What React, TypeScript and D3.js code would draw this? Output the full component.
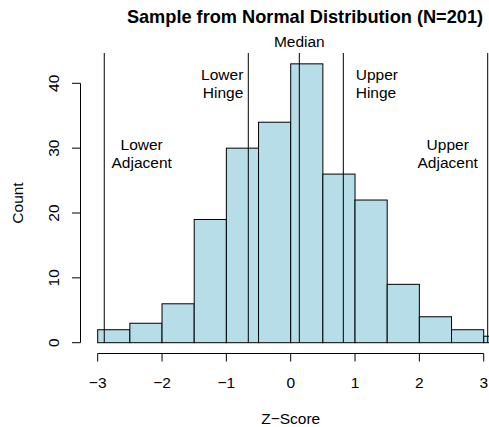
import React from "react";
import * as d3 from "d3";

const binEdges = [-3, -2.5, -2, -1.5, -1, -0.5, 0, 0.5, 1, 1.5, 2, 2.5, 3, 3.5];
const counts = [2, 3, 6, 19, 30, 34, 43, 26, 22, 9, 4, 2, 1];
const xTicks = [-3, -2, -1, 0, 1, 2, 3];
const yTicks = [0, 10, 20, 30, 40];
const markerNames = ["lowerAdj", "lowerHinge", "median", "upperHinge", "upperAdj"];
const markerValues = [-2.898, -0.659, 0.134, 0.818, 3.062];
const markerLabels = [["Lower", "Adjacent"], ["Lower", "Hinge"], ["Median"], ["Upper", "Hinge"], ["Upper", "Adjacent"]];
const title = "Sample from Normal Distribution (N=201)";
const xLabel = "Z\u2212Score";
const yLabel = "Count";

const W = 489;
const H = 427;
const FONT = "'Liberation Sans', Arial, Helvetica, sans-serif";
const FILL = "#b7dde9";

const fmt = (v: number) => (v < 0 ? "\u2212" + Math.abs(v) : String(v));

export default function App() {
  const x = d3.scaleLinear().domain([-3, 3]).range([97.7, 483.7]);
  const y = d3.scaleLinear().domain([0, 40]).range([342.7, 83.3]);
  const plotTop = 53;
  const axisY = 353.5;
  const axisX = 80.5;
  const fs = 15.5;

  const labelPos: Record<string, { dx: number; anchor: string; y0: number }> = {
    lowerAdj: { dx: 37.4, anchor: "middle", y0: 150 },
    lowerHinge: { dx: -5, anchor: "end", y0: 80 },
    median: { dx: 0, anchor: "middle", y0: 46.7 },
    upperHinge: { dx: 12.4, anchor: "start", y0: 80 },
    upperAdj: { dx: -40, anchor: "middle", y0: 150 },
  };

  return (
    <svg
      width={W}
      height={H}
      style={{ position: "absolute", left: 0, top: 0, background: "#fff" }}
      fontFamily={FONT}
    >
      <rect x={0} y={0} width={W} height={H} fill="#fff" />
      {/* bars */}
      {counts.map((c, i) => (
        <rect
          key={i}
          x={x(binEdges[i])}
          y={y(c)}
          width={x(binEdges[i + 1]) - x(binEdges[i])}
          height={y(0) - y(c)}
          fill={FILL}
          stroke="#000"
          strokeWidth={1}
        />
      ))}
      {/* marker lines */}
      {markerValues.map((v, i) => (
        <line
          key={"m" + i}
          x1={x(v)}
          x2={x(v)}
          y1={plotTop}
          y2={y(0)}
          stroke="#000"
          strokeWidth={1}
        />
      ))}
      {/* marker labels */}
      {markerNames.map((n, i) => {
        const p = labelPos[n];
        return (
          <text key={"l" + i} x={x(markerValues[i]) + p.dx} y={p.y0} fontSize={fs} textAnchor={p.anchor} fill="#000">
            {markerLabels[i].map((t, j) => (
              <tspan key={j} x={x(markerValues[i]) + p.dx} y={p.y0 + j * 18}>
                {t}
              </tspan>
            ))}
          </text>
        );
      })}
      {/* x axis */}
      <line x1={x(xTicks[0])} x2={x(xTicks[xTicks.length - 1])} y1={axisY} y2={axisY} stroke="#000" />
      {xTicks.map((t) => (
        <g key={"xt" + t}>
          <line x1={x(t)} x2={x(t)} y1={axisY} y2={axisY + 8} stroke="#000" />
          <text x={x(t)} y={388.3} fontSize={fs} textAnchor="middle">
            {fmt(t)}
          </text>
        </g>
      ))}
      {/* y axis */}
      <line x1={axisX} x2={axisX} y1={y(yTicks[0])} y2={y(yTicks[yTicks.length - 1])} stroke="#000" />
      {yTicks.map((t) => (
        <g key={"yt" + t}>
          <line x1={axisX} x2={axisX - 8.5} y1={y(t)} y2={y(t)} stroke="#000" />
          <text
            transform={`translate(59.3,${y(t)}) rotate(-90)`}
            fontSize={fs}
            textAnchor="middle"
          >
            {fmt(t)}
          </text>
        </g>
      ))}
      {/* axis titles */}
      <text x={290.7} y={423.5} fontSize={fs} textAnchor="middle">
        {xLabel}
      </text>
      <text transform={`translate(23.3,203) rotate(-90)`} fontSize={fs} textAnchor="middle">
        {yLabel}
      </text>
      {/* title */}
      <text x={305} y={23} fontSize={18.2} fontWeight="bold" textAnchor="middle">
        {title}
      </text>
    </svg>
  );
}
